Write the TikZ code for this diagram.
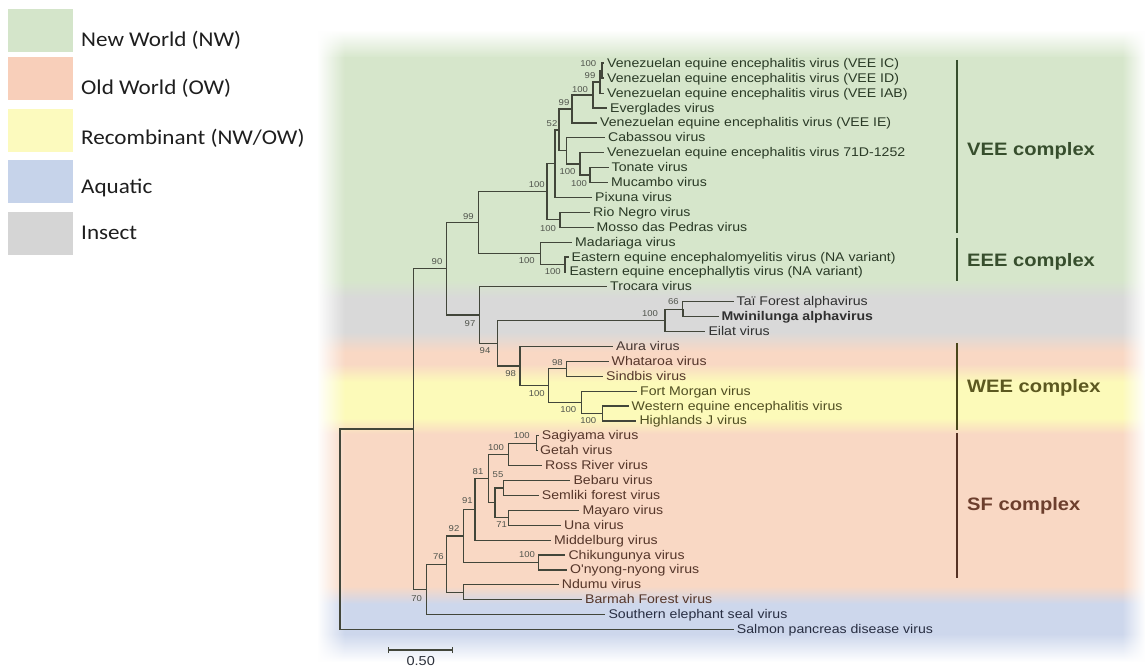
\documentclass[tikz,border=0pt]{standalone}
\usepackage{fontspec}
\setmainfont{Liberation Sans}
\newfontfamily\leaffont[FakeStretch=1.12]{Liberation Sans}
\newfontfamily\legfont[FakeStretch=1.1]{Carlito}
\usetikzlibrary{fadings}
\definecolor{bgG}{RGB}{214,230,203}
\definecolor{bgI}{RGB}{217,217,217}
\definecolor{bgP}{RGB}{249,216,196}
\definecolor{bgY}{RGB}{252,250,185}
\definecolor{bgB}{RGB}{205,215,236}
\definecolor{lgG}{RGB}{212,229,202}
\definecolor{lgP}{RGB}{248,207,186}
\definecolor{lgY}{RGB}{252,250,190}
\definecolor{lgB}{RGB}{198,211,234}
\definecolor{lgI}{RGB}{213,213,213}
\definecolor{txtG}{RGB}{42,58,38}
\definecolor{txtI}{RGB}{48,48,48}
\definecolor{txtA}{RGB}{70,55,50}
\definecolor{txtP}{RGB}{85,54,42}
\definecolor{txtY}{RGB}{80,78,34}
\definecolor{txtB}{RGB}{40,46,66}
\definecolor{linec}{RGB}{66,70,58}
\definecolor{bootc}{RGB}{80,84,76}
\definecolor{cplxG}{RGB}{55,78,45}
\definecolor{cplxY}{RGB}{92,88,32}
\definecolor{cplxP}{RGB}{108,62,45}
\tikzset{
  leaf/.style={anchor=west, inner xsep=3pt, inner ysep=0pt,
    font=\leaffont\fontsize{12.6}{14}\selectfont, text height=9pt, text depth=1pt},
  lG/.style={leaf,text=txtG}, lI/.style={leaf,text=txtI}, lA/.style={leaf,text=txtA},
  lP/.style={leaf,text=txtP}, lY/.style={leaf,text=txtY}, lB/.style={leaf,text=txtB},
  boot/.style={font=\leaffont\fontsize{8.5}{9}\selectfont, text=bootc, inner sep=0pt},
  br/.style={draw=linec, line width=1.2pt},
  bar/.style={line width=1.8pt},
  cplx/.style={anchor=west, inner sep=0pt, font=\leaffont\bfseries\fontsize{18}{20}\selectfont},
  legbox/.style={draw=none, minimum width=64.4pt, minimum height=43pt, inner sep=0pt},
  legtxt/.style={anchor=west, inner sep=2pt, text={rgb,255:red,30;green,30;blue,30},
    font=\legfont\fontsize{21}{24}\selectfont}
}
\begin{document}
\begin{tikzpicture}[x=1pt,y=-1pt]
\useasboundingbox (0,0) rectangle (1145,669);
\fill[white] (0,0) rectangle (1145,669);
% ---------- background bands ----------
\shade[top color=white,bottom color=bgG] (318,30) rectangle (1145,58);
\fill[bgG] (318,57.5) rectangle (1145,280.5);
\shade[top color=bgG,bottom color=bgI] (318,280) rectangle (1145,298);
\fill[bgI] (318,297.5) rectangle (1145,332.5);
\shade[top color=bgI,bottom color=bgP] (318,332) rectangle (1145,352);
\fill[bgP] (318,351.5) rectangle (1145,364.5);
\shade[top color=bgP,bottom color=bgY] (318,364) rectangle (1145,382);
\fill[bgY] (318,381.5) rectangle (1145,418.5);
\shade[top color=bgY,bottom color=bgP] (318,418) rectangle (1145,434);
\fill[bgP] (318,433.5) rectangle (1145,586.5);
\shade[top color=bgP,bottom color=bgB] (318,586) rectangle (1145,604);
\fill[bgB] (318,603.5) rectangle (1145,634.5);
\shade[top color=bgB,bottom color=white] (318,634) rectangle (1145,662);
\fill[white,path fading=east] (317,25) rectangle (345,669);
\fill[white,path fading=west] (1122,25) rectangle (1145.5,669);
% ---------- legend ----------
\node[legbox,fill=lgG] (bxNW) at (40.5,30.8) {};
\node[legbox,fill=lgP] (bxOW) at (40.5,78.7) {};
\node[legbox,fill=lgY] (bxRC) at (40.5,130) {};
\node[legbox,fill=lgB] (bxAQ) at (40.5,181.4) {};
\node[legbox,fill=lgI] (bxIN) at (40.5,233.7) {};
\node[legtxt] (tNW) at (79,40.7) {New World (NW)};
\node[legtxt] (tOW) at (79,88.3) {Old World (OW)};
\node[legtxt] (tRC) at (79,138.3) {Recombinant (NW/OW)};
\node[legtxt] (tAQ) at (79,188.3) {Aquatic};
\node[legtxt] (tIN) at (79,233.3) {Insect};
% ---------- internal nodes ----------
\coordinate (root) at (340,529.25);
\coordinate (A) at (413.3,429.0);
\coordinate (N90) at (446.7,268.7);
\coordinate (N99) at (478.3,222.5);
\coordinate (VEE) at (547,191.7);
\coordinate (K6) at (555,163.65);
\coordinate (K5) at (559,129.9);
\coordinate (K4) at (572,108.9);
\coordinate (K3) at (593,94.95);
\coordinate (K2) at (600,81.9);
\coordinate (K1) at (602,70.75);
\coordinate (CB) at (566.5,150.85);
\coordinate (T71) at (580,163.9);
\coordinate (TM) at (590,175.05);
\coordinate (RM) at (560,219.75);
\coordinate (EEE) at (540.7,253.3);
\coordinate (EP) at (565,264.45);
\coordinate (N97) at (479.3,314.95);
\coordinate (N94) at (497.3,343.1);
\coordinate (INS) at (665,320.3);
\coordinate (TM2) at (682.7,309.15);
\coordinate (W98) at (520,365.95);
\coordinate (W100) at (548.3,385.5);
\coordinate (WS) at (566.7,368.75);
\coordinate (FM) at (581.7,402.3);
\coordinate (WH) at (602.3,413.45);
\coordinate (B) at (426.7,589.35);
\coordinate (C) at (446.7,564.1);
\coordinate (D) at (463.3,535.9);
\coordinate (E) at (463.3,592.25);
\coordinate (F) at (475,509.35);
\coordinate (H) at (488.3,478.6);
\coordinate (SRR) at (508.3,454.4);
\coordinate (SG) at (536.7,443.25);
\coordinate (J) at (495,502.85);
\coordinate (BS) at (503.3,487.95);
\coordinate (MU) at (508.3,517.75);
\coordinate (CO) at (538.3,562.45);
% ---------- leaves ----------
\node[lG] (ic) at (604,63.3) {Venezuelan equine encephalitis virus (VEE IC)};
\node[lG] (id) at (604,78.2) {Venezuelan equine encephalitis virus (VEE ID)};
\node[lG] (iab) at (604,93.1) {Venezuelan equine encephalitis virus (VEE IAB)};
\node[lG] (evg) at (607,108.0) {Everglades virus};
\node[lG] (ie) at (597,122.9) {Venezuelan equine encephalitis virus (VEE IE)};
\node[lG] (cab) at (605,137.8) {Cabassou virus};
\node[lG] (d71) at (604,152.7) {Venezuelan equine encephalitis virus 71D-1252};
\node[lG] (ton) at (608.5,167.6) {Tonate virus};
\node[lG] (muc) at (608,182.5) {Mucambo virus};
\node[lG] (pix) at (592,197.4) {Pixuna virus};
\node[lG] (rio) at (590,212.3) {Rio Negro virus};
\node[lG] (mos) at (593.5,227.2) {Mosso das Pedras virus};
\node[lG] (mad) at (572,242.1) {Madariaga virus};
\node[lG] (eea) at (568.5,257.0) {Eastern equine encephalomyelitis virus (NA variant)};
\node[lG] (eeb) at (566.3,271.9) {Eastern equine encephallytis virus (NA variant)};
\node[lG] (tro) at (607,286.8) {Trocara virus};
\node[lI] (tai) at (733.5,301.7) {Taï Forest alphavirus};
\node[lI] (mwi) at (718.5,316.6) {\bfseries Mwinilunga alphavirus};
\node[lI] (eil) at (705.3,331.5) {Eilat virus};
\node[lA] (aur) at (613,346.4) {Aura virus};
\node[lP] (wha) at (608.5,361.3) {Whataroa virus};
\node[lP] (sin) at (603,376.2) {Sindbis virus};
\node[lY] (ftm) at (637,391.1) {Fort Morgan virus};
\node[lY] (wee) at (628.5,406.0) {Western equine encephalitis virus};
\node[lY] (hlj) at (636.3,420.9) {Highlands J virus};
\node[lP] (sag) at (538.7,435.8) {Sagiyama virus};
\node[lP] (get) at (537,450.7) {Getah virus};
\node[lP] (ross) at (542,465.6) {Ross River virus};
\node[lP] (beb) at (570.3,480.5) {Bebaru virus};
\node[lP] (sem) at (538.7,495.4) {Semliki forest virus};
\node[lP] (may) at (579.3,510.3) {Mayaro virus};
\node[lP] (una) at (561,525.2) {Una virus};
\node[lP] (mid) at (551,540.1) {Middelburg virus};
\node[lP] (chi) at (565.3,555.0) {Chikungunya virus};
\node[lP] (ony) at (567,569.9) {O'nyong-nyong virus};
\node[lP] (ndu) at (558.7,584.8) {Ndumu virus};
\node[lP] (bar) at (582,599.7) {Barmah Forest virus};
\node[lB] (sou) at (605.3,614.6) {Southern elephant seal virus};
\node[lB] (sal) at (733.7,629.5) {Salmon pancreas disease virus};
% ---------- branches ----------
\draw[br] (root) |- (A);   \draw[br] (root) |- (sal.west);
\draw[br] (A) |- (N90);    \draw[br] (A) |- (B);
\draw[br] (N90) |- (N99);  \draw[br] (N90) |- (N97);
\draw[br] (N99) |- (VEE);  \draw[br] (N99) |- (EEE);
\draw[br] (VEE) |- (K6);   \draw[br] (VEE) |- (RM);
\draw[br] (K6) |- (K5);    \draw[br] (K6) |- (pix.west);
\draw[br] (K5) |- (K4);    \draw[br] (K5) |- (CB);
\draw[br] (K4) |- (K3);    \draw[br] (K4) |- (ie.west);
\draw[br] (K3) |- (K2);    \draw[br] (K3) |- (evg.west);
\draw[br] (K2) |- (K1);    \draw[br] (K2) |- (iab.west);
\draw[br,line width=2pt] (K1) |- (ic.west);  \draw[br,line width=2pt] (K1) |- (id.west);
\draw[br] (CB) |- (cab.west); \draw[br] (CB) |- (T71);
\draw[br] (T71) |- (d71.west); \draw[br] (T71) |- (TM);
\draw[br] (TM) |- (ton.west); \draw[br] (TM) |- (muc.west);
\draw[br] (RM) |- (rio.west); \draw[br] (RM) |- (mos.west);
\draw[br] (EEE) |- (mad.west); \draw[br] (EEE) |- (EP);
\draw[br] (EP) |- (eea.west); \draw[br] (EP) |- (eeb.west);
\draw[br] (N97) |- (tro.west); \draw[br] (N97) |- (N94);
\draw[br] (N94) |- (INS);  \draw[br] (N94) |- (W98);
\draw[br] (INS) |- (TM2);  \draw[br] (INS) |- (eil.west);
\draw[br] (TM2) |- (tai.west); \draw[br,line width=1.7pt] (TM2) |- (mwi.west);
\draw[br] (W98) |- (aur.west); \draw[br] (W98) |- (W100);
\draw[br] (W100) |- (WS);  \draw[br] (W100) |- (FM);
\draw[br] (WS) |- (wha.west); \draw[br] (WS) |- (sin.west);
\draw[br] (FM) |- (ftm.west); \draw[br] (FM) |- (WH);
\draw[br] (WH) |- (wee.west); \draw[br] (WH) |- (hlj.west);
\draw[br] (B) |- (C);      \draw[br] (B) |- (sou.west);
\draw[br] (C) |- (D);      \draw[br] (C) |- (E);
\draw[br] (D) |- (F);      \draw[br] (D) |- (CO);
\draw[br] (F) |- (H);      \draw[br] (F) |- (mid.west);
\draw[br] (H) |- (SRR);    \draw[br] (H) |- (J);
\draw[br] (SRR) |- (SG);   \draw[br] (SRR) |- (ross.west);
\draw[br] (SG) |- (sag.west); \draw[br] (SG) |- (get.west);
\draw[br] (J) |- (BS);     \draw[br] (J) |- (MU);
\draw[br] (BS) |- (beb.west); \draw[br] (BS) |- (sem.west);
\draw[br] (MU) |- (may.west); \draw[br] (MU) |- (una.west);
\draw[br] (CO) |- (chi.west); \draw[br] (CO) |- (ony.west);
\draw[br] (E) |- (ndu.west); \draw[br] (E) |- (bar.west);
% ---------- bootstrap values ----------
\node[boot] (bK1) at (588.3,64) {100};
\node[boot] (bK2) at (590,75.5) {99};
\node[boot] (bK3) at (580,89.3) {100};
\node[boot] (bK4) at (564,103) {99};
\node[boot] (bK5) at (552,123.3) {52};
\node[boot] (bT71) at (567.5,171.7) {100};
\node[boot] (bTM) at (579,183.3) {100};
\node[boot] (bVEE) at (536.7,185) {100};
\node[boot] (bRM) at (548,228.3) {100};
\node[boot] (bN99) at (468.3,216.7) {99};
\node[boot] (bEEE) at (526.7,260.7) {100};
\node[boot] (bEP) at (552.7,271.7) {100};
\node[boot] (bN90) at (437,262) {90};
\node[boot] (bN97) at (470,323.3) {97};
\node[boot] (bINS) at (650,313.3) {100};
\node[boot] (bTM2) at (673.3,301.7) {66};
\node[boot] (bN94) at (485,350.7) {94};
\node[boot] (bW98) at (510.7,374) {98};
\node[boot] (bW100) at (536.7,393.3) {100};
\node[boot] (bWS) at (557.3,362.7) {98};
\node[boot] (bFM) at (568.3,410) {100};
\node[boot] (bWH) at (588.3,421) {100};
\node[boot] (bSG) at (521.7,435.7) {100};
\node[boot] (bSRR) at (496,447.7) {100};
\node[boot] (bH) at (478,472) {81};
\node[boot] (bJ) at (498,475) {55};
\node[boot] (bMU) at (501.7,525) {71};
\node[boot] (bF) at (467.3,501) {91};
\node[boot] (bD) at (454,528.3) {92};
\node[boot] (bCO) at (527,554.5) {100};
\node[boot] (bC) at (438.3,556.7) {76};
\node[boot] (bB) at (416.7,598.3) {70};
% ---------- scale bar ----------
\coordinate (sb1) at (388.3,650);
\coordinate (sb2) at (452.7,650);
\draw[br,line width=1.3pt] (sb1) -- (sb2);
\draw[br,line width=1.3pt] ([yshift=-3pt]sb1) -- ([yshift=3pt]sb1);
\draw[br,line width=1.3pt] ([yshift=-3pt]sb2) -- ([yshift=3pt]sb2);
\node[inner sep=0pt, font=\leaffont\fontsize{13}{14}\selectfont, text={rgb,255:red,45;green,50;blue,60}] (sbl) at (420.7,661) {0.50};
% ---------- complexes ----------
\coordinate (veeT) at (957,60);  \coordinate (veeB) at (957,233);
\coordinate (eeeT) at (957,238); \coordinate (eeeB) at (957,281);
\coordinate (weeT) at (957,343); \coordinate (weeB) at (957,430);
\coordinate (sfT) at (957,433);  \coordinate (sfB) at (957,578);
\draw[bar,draw=cplxG] (veeT) -- (veeB);
\draw[bar,draw=cplxG] (eeeT) -- (eeeB);
\draw[bar,draw=cplxY!80!black] (weeT) -- (weeB);
\draw[bar,draw=cplxP!80!black] (sfT) -- (sfB);
\node[cplx,text=cplxG] (veeL) at (967,151) {VEE complex};
\node[cplx,text=cplxG] (eeeL) at (967,261.5) {EEE complex};
\node[cplx,text=cplxY] (weeL) at (967,388) {WEE complex};
\node[cplx,text=cplxP] (sfL) at (967,506) {SF complex};
\end{tikzpicture}
\end{document}
